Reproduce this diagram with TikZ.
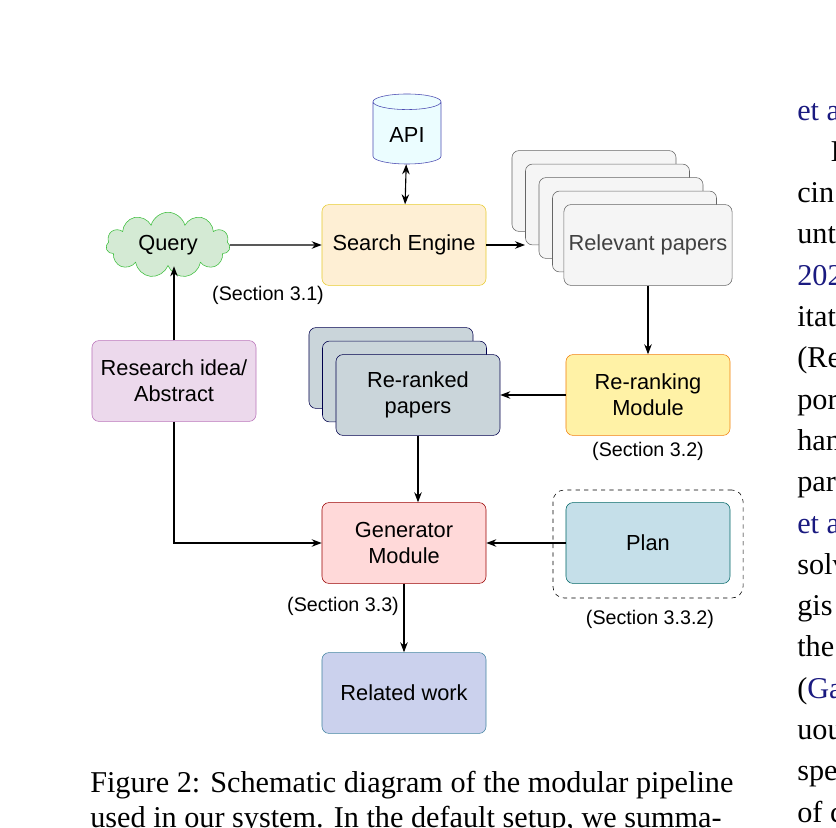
\documentclass[tikz,border=0pt]{standalone}
\usepackage{fontspec}
\setmainfont{Liberation Serif}
\newfontfamily\diagfont{Liberation Sans}
\usetikzlibrary{arrows.meta,positioning,calc,shapes.geometric,shapes.symbols}

\definecolor{capblue}{HTML}{1A1A80}

\begin{document}
\begin{tikzpicture}[
    x=0.025cm, y=-0.025cm,
    box/.style={rectangle, rounded corners=5pt, minimum width=4.1cm, minimum height=2.02cm, align=center, font=\diagfont\fontsize{15.5}{18.5}\selectfont},
    sect/.style={font=\diagfont\fontsize{14}{16}\selectfont},
    link/.style={-{Stealth[length=2.5mm]}, thick},
    page/.style={font=\fontsize{21.5}{29}\selectfont, anchor=base west, inner sep=0pt},
]
    \useasboundingbox (0,0) rectangle (836,828);

    % database and search
    \node[cylinder, shape border rotate=90, aspect=0.35, draw=blue!40!gray, fill=blue!8!cyan!8, minimum width=1.7cm, minimum height=1.75cm, font=\diagfont\fontsize{15.5}{18.5}\selectfont] (api) at (407,135) {API};
    \node[box, draw=yellow!60!brown, fill=yellow!25!orange!15] (search) at (404,245) {Search Engine};
    \node[cloud, cloud puffs=11, aspect=2.1, draw=green!50!gray, fill=green!35!gray!25, minimum width=3.1cm, minimum height=1.6cm, font=\diagfont\fontsize{15.5}{18.5}\selectfont] (query) at (168,245) {Query};
    \node[sect] (sec1) at (268,295) {(Section 3.1)};

    % stack of retrieved papers
    \foreach \k in {4,3,2,1}
        \node[box, draw=gray!80!black, fill=gray!8] (rel\k) at ({648-13.5*\k},{245-13.5*\k}) {};
    \node[box, draw=gray!80!black, fill=gray!8, text=black!75] (relevant) at (648,245) {Relevant papers};
    \coordinate (relin) at (525,245);

    % re-ranking
    \node[box, draw=orange!80!brown, fill=orange!30!yellow!35] (rerank) at (648,395) {Re-ranking\\Module};
    \node[sect] (sec2) at (648,451) {(Section 3.2)};
    \foreach \k in {2,1}
        \node[box, draw=blue!30!black, fill=cyan!20!gray!40] (rr\k) at ({418-13.5*\k},{395-13.5*\k}) {};
    \node[box, draw=blue!30!black, fill=cyan!20!gray!40] (reranked) at (418,395) {Re-ranked\\papers};

    % idea, generator, plan, output
    \node[box, draw=violet!55, fill=violet!15] (idea) at (174,381) {Research idea/\\Abstract};
    \node[box, draw=red!60!black, fill=red!15] (gen) at (404,543) {Generator\\Module};
    \node[sect] (sec3) at (343,606) {(Section 3.3)};
    \node[box, draw=teal!80!black, fill=cyan!30!teal!25] (plan) at (648,543) {Plan};
    \node[draw, dashed, rounded corners=8pt, minimum width=4.75cm, minimum height=2.7cm] (planbox) at (648,544) {};
    \node[sect] (sec4) at (650,619) {(Section 3.3.2)};
    \node[box, draw=cyan!60!black, fill=cyan!35!blue!20] (related) at (404,693) {Related work};

    % connectors
    \draw[{Stealth[length=2.5mm]}-{Stealth[length=2.5mm]}, thick] (api) -- (search);
    \draw[link] (query) -- (search);
    \draw[link] (search) -- (relin);
    \draw[link] (relevant) -- (rerank);
    \draw[link] (rerank) -- (reranked);
    \draw[link] (reranked.south) -- (reranked.south|-gen.north);
    \draw[link] (idea.north) -- (idea.north|-query.south);
    \draw[link] (idea) |- (gen);
    \draw[link] (plan) -- (gen);
    \draw[link] (gen) -- (related);

    % surrounding page text
    \node[page] (cap1) at (90,792) {Figure 2: Schematic diagram of the modular pipeline};
    \node[page] (cap2) at (90,827) {used in our system. In the default setup, we summa-};
    \foreach \t [count=\i from 0] in {{\color{capblue}et al.},{\hspace*{1.1em}In},{cin},{unt},{\color{capblue}2023},{itat},{(Re},{por},{han},{par},{\color{capblue}et al.},{solv},{gis},{the},{({\color{capblue}Ga}},{uou},{spe},{of c}}
        \node[page] (col\i) at (797,{120+41.3*\i}) {\t};
\end{tikzpicture}
\end{document}
